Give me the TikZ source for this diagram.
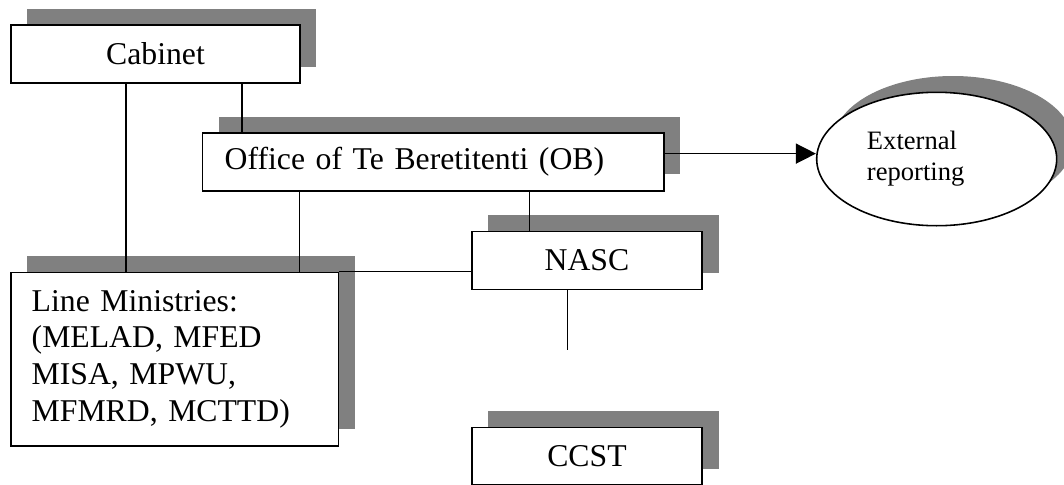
\documentclass[tikz,border=0pt]{standalone}
\usepackage{fontspec}
\setmainfont{Liberation Serif}
\usetikzlibrary{arrows.meta,shadows,shapes.geometric}

\begin{document}
\begin{tikzpicture}
		[
			x=0.35pt, y=-0.35pt,
			align=center,
			font=\fontsize{11.1}{12.85}\selectfont,
			box/.style={draw, line width=0.55pt, fill=white, inner sep=0pt,
				minimum height=20.2pt,
				drop shadow={shadow xshift=5.7pt, shadow yshift=5.7pt, fill=gray, opacity=1}},
			oval/.style={ellipse, draw, line width=0.55pt, fill=white, inner sep=0pt,
				minimum width=84pt, minimum height=46.7pt,
				drop shadow={shadow xshift=5.7pt, shadow yshift=5.7pt, fill=gray, opacity=1}},
			link/.style={line width=0.5pt},
			arrow/.style={-{Triangle[length=7pt,width=7pt]}, line width=0.5pt}
		]

		\useasboundingbox (0,0) rectangle (1064,485);

		% boxes
		\node[box, line width=0.8pt, minimum width=101.2pt]	(Cab) at ( 155.5,  54.0 ) {Cabinet};
		\node[box, text width=146pt, align=left, inner xsep=7.75pt]	(Office) at ( 433.3, 161.9 ) {Office of Te Beretitenti (OB)};
		\node[box, text width=100.1pt, align=left, inner xsep=7.25pt, minimum height=60.7pt]
			(LM) at ( 174.7, 359.0 ) {Line Ministries:\\(MELAD, MFED\\MISA, MPWU,\\MFMRD, MCTTD)};
		\node[box, minimum width=80.7pt]	(NASC) at ( 587.0, 260.5 ) {NASC};
		\node[box, minimum width=80.7pt]	(CCST) at ( 587.0, 456.2 ) {CCST};
		\node[oval, text width=48.8pt, align=left, font=\fontsize{9.3}{10.8}\selectfont]
			(Ext) at ( 936.7, 159.0 ) {External\\reporting};

		% loose end below NASC
		\coordinate (NASCend) at ( 567.7, 350.0 );

		% connectors
		\foreach \from/\to/\x in
		{Cab/LM/126, Cab/Office/242, Office/LM/299.3, Office/NASC/529.5}
		\draw[link] (\from.south -| \x,0) -- (\to.north -| \x,0);

		\draw[link] (LM.north east) -- (LM.north east -| NASC.west);
		\draw[link] (NASC.south -| NASCend) -- (NASCend);
		\draw[arrow] ([yshift=2.9pt]Office.east) -- ([yshift=2.9pt]Office.east -| Ext.west);

	\end{tikzpicture}
\end{document}
